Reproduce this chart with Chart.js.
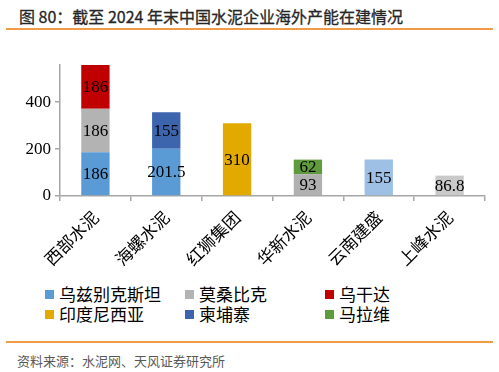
<!DOCTYPE html>
<html>
<head>
<meta charset="utf-8">
<script src="https://cdn.jsdelivr.net/npm/chart.js@4.4.1/dist/chart.umd.min.js"></script>
<style>
  body { margin: 0; width: 499px; height: 372px; position: relative; background: #fff; overflow: hidden; font-family: "Noto Sans CJK SC", sans-serif; }
  #title { position: absolute; left: 19px; top: 4px; font-size: 16px; font-weight: normal; color: #262626; white-space: nowrap; -webkit-text-stroke: 0.3px #262626; }
  .rule { position: absolute; left: 6px; width: 487px; height: 2px; background: #f29b46; }
  #wrap { position: absolute; left: 0; top: 0; width: 499px; height: 280px; }
  #legend { position: absolute; left: 0; top: 284px; width: 499px; }
  .item { position: absolute; font-size: 17px; color: #000; white-space: nowrap; line-height: 20px; }
  .item span { display: inline-block; width: 9px; height: 9px; margin-right: 5px; vertical-align: 2px; }
  #source { position: absolute; left: 17px; top: 351px; font-size: 13px; color: #595959; white-space: nowrap; }
</style>
</head>
<body>
<div id="title">图 80：截至 2024 年末中国水泥企业海外产能在建情况</div>
<div class="rule" style="top:28px"></div>
<div id="wrap"><canvas id="myChart" width="499" height="280"></canvas></div>
<div id="legend"></div>
<div class="rule" style="top:341px"></div>
<div id="source">资料来源：水泥网、天风证券研究所</div>
<script>
var companies = ['西部水泥', '海螺水泥', '红狮集团', '华新水泥', '云南建盛', '上峰水泥'];
var uzbekistan = [186, 201.5, null, null, 155, null];
var mozambique = [186, null, null, 93, null, 86.8];
var uganda = [186, null, null, null, null, null];
var indonesia = [null, null, 310, null, null, null];
var cambodia = [null, 155, null, null, null, null];
var malawi = [null, null, null, 62, null, null];
var yTicks = [0, 200, 400];

function series(label, data, color) {
  return { label: label, data: data, backgroundColor: color, borderWidth: 0,
           barPercentage: 0.8, categoryPercentage: 0.5 };
}

var datasets = [
  series('乌兹别克斯坦', uzbekistan, ['#5b9bd5', '#5b9bd5', '#5b9bd5', '#5b9bd5', '#9dc0e4', '#5b9bd5']),
  series('莫桑比克', mozambique, ['#b3b3b3', '#b3b3b3', '#b3b3b3', '#b0b0b0', '#b3b3b3', '#c9c9c9']),
  series('乌干达', uganda, '#c00000'),
  series('印度尼西亚', indonesia, '#e2aa00'),
  series('柬埔寨', cambodia, '#3d65ae'),
  series('马拉维', malawi, '#5f9b3c')
];

// legend grid: 3 columns, 2 rows
var legendColors = ['#5b9bd5', '#b3b3b3', '#c00000', '#e2aa00', '#3d65ae', '#5f9b3c'];
var colX = [45, 185, 325];
var legendEl = document.getElementById('legend');
datasets.forEach(function (ds, i) {
  var d = document.createElement('div');
  d.className = 'item';
  d.style.left = colX[i % 3] + 'px';
  d.style.top = (Math.floor(i / 3) * 20) + 'px';
  d.innerHTML = '<span style="background:' + legendColors[i] + '"></span>' + ds.label;
  legendEl.appendChild(d);
});

var valueLabels = {
  id: 'valueLabels',
  afterDatasetsDraw: function (chart) {
    var ctx = chart.ctx;
    ctx.save();
    ctx.font = '17px "Liberation Serif"';
    ctx.fillStyle = '#000';
    ctx.textAlign = 'center';
    ctx.textBaseline = 'middle';
    chart.data.datasets.forEach(function (ds, i) {
      chart.getDatasetMeta(i).data.forEach(function (bar, j) {
        var v = ds.data[j];
        if (v === null) return;
        ctx.fillText(String(v), bar.x, (bar.y + bar.base) / 2 + 1);
      });
    });
    ctx.restore();
  }
};

var ctx = document.getElementById('myChart').getContext('2d');
var myChart = new Chart(ctx, {
  type: 'bar',
  data: { labels: companies, datasets: datasets },
  plugins: [valueLabels],
  options: {
    responsive: false,
    animation: false,
    layout: { padding: { top: 65, right: 14, left: 0, bottom: 0 } },
    plugins: { legend: { display: false }, tooltip: { enabled: false } },
    scales: {
      x: {
        stacked: true,
        afterFit: function (s) { s.height = 84; },
        border: { color: '#a6a6a6', width: 1.5 },
        grid: { drawOnChartArea: false, color: '#a6a6a6', tickLength: 5, lineWidth: 1.5 },
        ticks: { maxRotation: 45, minRotation: 45, color: '#000', padding: 6,
                 font: { family: '"Noto Sans CJK SC"', size: 17 } }
      },
      y: {
        stacked: true,
        min: 0,
        max: 558,
        afterFit: function (s) { s.width = 60; },
        afterBuildTicks: function (s) {
          s.ticks = yTicks.map(function (v) { return { value: v }; });
        },
        border: { color: '#a6a6a6', width: 1.5 },
        grid: { drawOnChartArea: false, color: '#a6a6a6', tickLength: 5, lineWidth: 1.5 },
        ticks: { color: '#000', padding: 4, font: { family: '"Liberation Serif"', size: 17 } }
      }
    }
  }
});
</script>
</body>
</html>
